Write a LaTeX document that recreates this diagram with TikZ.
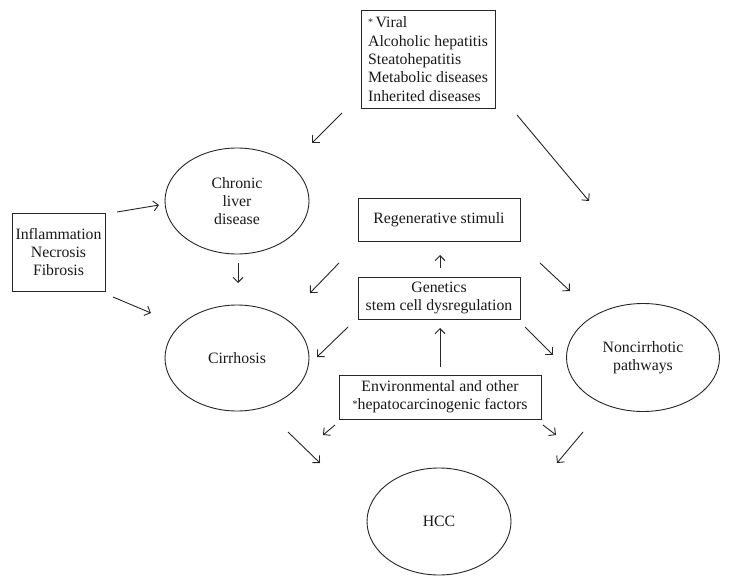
\documentclass[tikz,border=0pt]{standalone}
\usepackage{fontspec}
\setmainfont{Liberation Serif}
\usetikzlibrary{shapes.geometric,arrows.meta}
\begin{document}
\begin{tikzpicture}[x=1pt,y=-1pt,
  every node/.style={font=\fontsize{15.8}{18.3}\selectfont, text=black!90},
  boxnode/.style={draw=black!85, line width=0.9pt, rectangle, inner sep=0pt, align=center},
  ellnode/.style={draw=black!85, line width=0.9pt, ellipse, inner sep=0pt, align=center},
  arr/.style={draw=black!85, line width=0.9pt, -{Straight Barb[length=5pt,width=10pt]}}]
\useasboundingbox (0,0) rectangle (730,586);
\fill[white] (0,0) rectangle (730,586);
% nodes
\node[boxnode, minimum width=134, minimum height=98, align=left] (top) at (428,59)
  {\raisebox{0.35ex}{\fontsize{10}{10}\selectfont *}\,Viral\\Alcoholic hepatitis\\Steatohepatitis\\Metabolic diseases\\Inherited diseases};
\node[boxnode, minimum width=93, minimum height=78] (infl) at (58.5,252)
  {Inflammation\\Necrosis\\Fibrosis};
\node[boxnode, minimum width=162, minimum height=43] (regen) at (439,219.5) {Regenerative stimuli};
\node[boxnode, minimum width=162, minimum height=42] (gen) at (439,298) {Genetics\\stem cell dysregulation};
\node[boxnode, minimum width=202, minimum height=44] (env) at (440,397)
  {Environmental and other\\\raisebox{0.35ex}{\fontsize{10}{10}\selectfont *}hepatocarcinogenic factors};
\node[ellnode, minimum width=144, minimum height=106] (chronic) at (237,201) {Chronic\\liver\\disease};
\node[ellnode, minimum width=144, minimum height=106] (cirr) at (237,358) {Cirrhosis};
\node[ellnode, minimum width=153, minimum height=108] (noncirr) at (643,357.5) {Noncirrhotic\\pathways};
\node[ellnode, minimum width=144, minimum height=107] (hcc) at (439,521.5) {HCC};
% arrows
\draw[arr] (342,113) -- (312,143);
\draw[arr] (517,115) -- (589,201);
\draw[arr] (117,212) -- (159,205);
\draw[arr] (113,297) -- (151,313);
\draw[arr] (238,263) -- (238,283);
\draw[arr] (339,263) -- (310,293);
\draw[arr] (348,327) -- (317,357);
\draw[arr] (440,268) -- (440,255);
\draw[arr] (540,263) -- (570,291);
\draw[arr] (525,327) -- (553,355);
\draw[arr] (440,367) -- (440,328);
\draw[arr] (335,425) -- (323,435);
\draw[arr] (288,432) -- (320,463);
\draw[arr] (543,425) -- (556,435);
\draw[arr] (583,432) -- (557,463);
\end{tikzpicture}
\end{document}
